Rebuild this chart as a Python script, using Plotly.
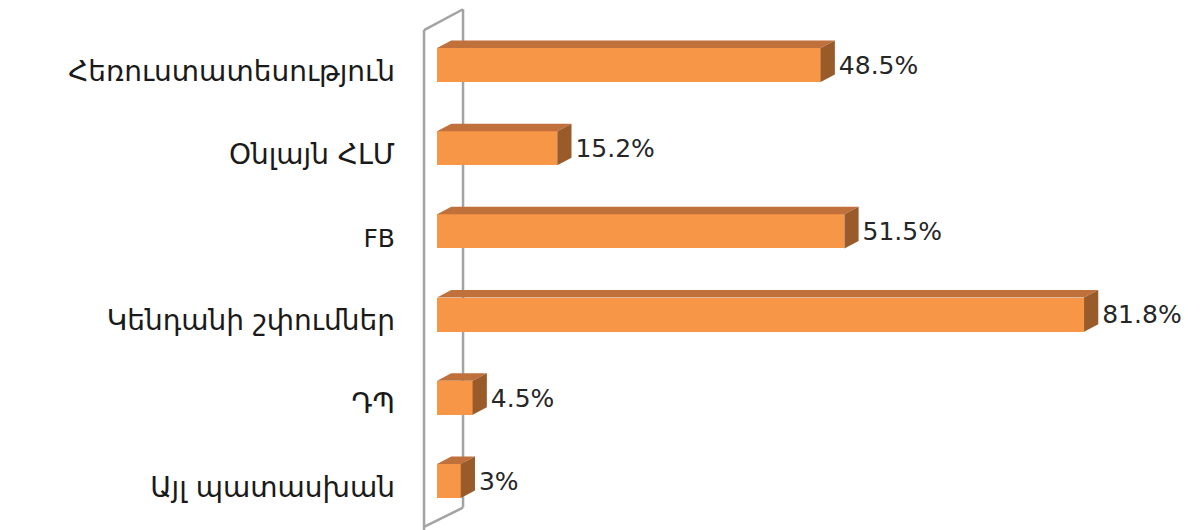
import plotly.graph_objects as go

categories = ["Հեռուստատեսություն", "Օնլայն ՀԼՄ", "FB", "Կենդանի շփումներ", "ԴՊ", "Այլ պատասխան"]
values = [48.5, 15.2, 51.5, 81.8, 4.5, 3]
value_labels = ["48.5%", "15.2%", "51.5%", "81.8%", "4.5%", "3%"]

FRONT = "#F79646"
TOP = "#C0703A"
SIDE = "#9A5B2A"

bar_h = 0.41   # bar thickness in category units
dx = 1.8       # depth offset (value units)
dy = 0.09      # depth offset (category units)

fig = go.Figure()

idx = list(range(len(categories)))

# front faces
fig.add_trace(go.Bar(
    x=values, y=idx, orientation="h", width=bar_h, base=0,
    marker=dict(color=FRONT, line=dict(width=0)), hoverinfo="skip", showlegend=False,
))

# top and side faces computed from the values
for i, v in zip(idx, values):
    ytop = i - bar_h / 2
    ybot = i + bar_h / 2
    fig.add_trace(go.Scatter(
        x=[0, v, v + dx, dx, 0], y=[ytop, ytop, ytop - dy, ytop - dy, ytop],
        fill="toself", fillcolor=TOP, mode="lines", line=dict(width=0, color=TOP),
        hoverinfo="skip", showlegend=False,
    ))
    fig.add_trace(go.Scatter(
        x=[v, v + dx, v + dx, v, v], y=[ytop, ytop - dy, ybot - dy, ybot, ytop],
        fill="toself", fillcolor=SIDE, mode="lines", line=dict(width=0, color=SIDE),
        hoverinfo="skip", showlegend=False,
    ))

# data labels
fig.add_trace(go.Scatter(
    x=[v + dx + 0.5 for v in values], y=[i + 0.03 for i in idx],
    mode="text", text=value_labels, textposition="middle right",
    textfont=dict(family="DejaVu Sans", size=25, color="#262626"),
    hoverinfo="skip", showlegend=False,
))

# wall (axis plane)
wall_col = "#A3A3A3"
fx, bx = -1.64, 3.29
wall = [
    (fx, -0.42, fx, 5.75),
    (bx, -0.67, bx, 5.32),
    (fx, -0.42, bx, -0.67),
    (fx, 5.55, bx, 5.32),
]
for x0, y0, x1, y1 in wall:
    fig.add_shape(type="line", x0=x0, y0=y0, x1=x1, y1=y1, xref="x", yref="y",
                  line=dict(color=wall_col, width=2.5), layer="below")

ticktext = [c if c != "FB" else "<span style='font-size:25px'>FB</span>" for c in categories]

fig.update_layout(
    width=1195, height=522,
    margin=dict(l=392, r=0, t=0, b=0),
    plot_bgcolor="white", paper_bgcolor="white",
    xaxis=dict(range=[-4.68, 96.84], visible=False, fixedrange=True),
    yaxis=dict(range=[5.589, -0.685], tickmode="array", tickvals=[i + 0.07 for i in idx],
               ticktext=ticktext, showgrid=False, zeroline=False, showline=False,
               ticks="", ticklabelstandoff=4,
               tickfont=dict(family="DejaVu Sans", size=28, color="#1a1a1a")),
    bargap=0,
)

fig.write_html("out.html")
